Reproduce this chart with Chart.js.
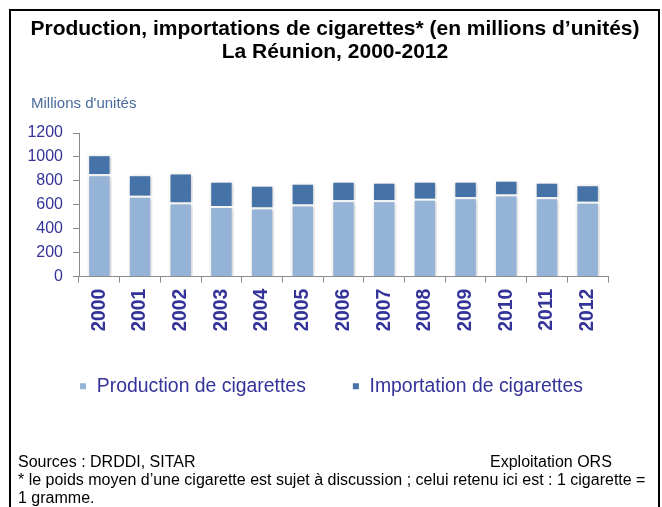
<!DOCTYPE html>
<html>
<head>
<meta charset="utf-8">
<script src="https://cdn.jsdelivr.net/npm/chart.js@4"></script>
<style>
  body { margin: 0; background: #fff; font-family: "Liberation Sans", Arial, sans-serif; }
  #wrap { position: relative; width: 662px; height: 507px; overflow: hidden; }
  #frame { position: absolute; left: 9px; top: 9px; width: 647px; height: 520px; border: 2px solid #000; }
  canvas { position: absolute; left: 0; top: 0; }
  .txt { position: absolute; white-space: nowrap; }
  #title { left: 0; width: 670px; top: 16px; text-align: center; font-weight: bold; font-size: 21px; line-height: 23px; }
  #unit { left: 31px; top: 94px; font-size: 15px; color: #4a6b9c; }
  .foot { left: 18px; font-size: 16px; line-height: 18px; color: #000; }
</style>
</head>
<body>
<div id="wrap">
  <canvas id="myChart" width="662" height="507"></canvas>
  <div id="frame"></div>
  <div class="txt" id="title">Production, importations de cigarettes* (en millions d’unités)<br>La Réunion, 2000-2012</div>
  <div class="txt" id="unit">Millions d'unités</div>
  <div class="txt foot" style="top:453px">Sources : DRDDI, SITAR</div>
  <div class="txt foot" style="top:453px; left:490px">Exploitation ORS</div>
  <div class="txt foot" style="top:471px">* le poids moyen d’une cigarette est sujet à discussion ; celui retenu ici est : 1 cigarette =</div>
  <div class="txt foot" style="top:489px">1 gramme.</div>
</div>
<script>
const years = ["2000", "2001", "2002", "2003", "2004", "2005", "2006", "2007", "2008", "2009", "2010", "2011", "2012"];
// (millions d'unités)
const production = [855, 675, 620, 591, 578, 603, 639, 639, 650, 664, 687, 664, 625];
const importation = [168, 180, 249, 211, 190, 182, 163, 154, 152, 138, 123, 129, 146];
const yTicks = [0, 200, 400, 600, 800, 1000, 1200];

const navy = "#333399";
const axisGray = "#8c8c8c";

const shadow = {
  id: "shadow",
  beforeDatasetsDraw(chart) {
    const c = chart.ctx;
    c.save();
    c.shadowColor = "rgba(0,0,0,0.22)";
    c.shadowBlur = 4;
    c.shadowOffsetX = 1;
    c.shadowOffsetY = 1;
  },
  afterDatasetsDraw(chart) {
    chart.ctx.restore();
  },
};

// the legend box only spans the padded area, so put it back in the middle of the page
const centerLegend = {
  id: "centerLegend",
  afterLayout(chart) {
    const lg = chart.legend;
    const shift = (chart.width - lg.right - lg.left) / 2;
    lg.left += shift;
    lg.right += shift;
  },
};

const ctx = document.getElementById("myChart").getContext("2d");
const myChart = new Chart(ctx, {
  type: "bar",
  data: {
    labels: years,
    datasets: [
      {
        label: "Production de cigarettes",
        data: production,
        backgroundColor: "#95b3d7",
        borderColor: "#ffffff",
        borderWidth: 2,
      },
      {
        label: "Importation de cigarettes",
        data: importation,
        backgroundColor: "#4572a7",
        borderColor: "#ffffff",
        borderWidth: 2,
      },
    ],
  },
  options: {
    responsive: false,
    animation: false,
    layout: { padding: { left: 0, top: 133, right: 54, bottom: 101 } },
    datasets: { bar: { barPercentage: 0.6, categoryPercentage: 1 } },
    scales: {
      x: {
        stacked: true,
        afterFit(scale) { scale.height = 54; },
        grid: { drawOnChartArea: false, color: axisGray, tickLength: 6, offset: true },
        border: { color: axisGray, width: 1 },
        ticks: {
          color: navy,
          minRotation: 90,
          maxRotation: 90,
          padding: 6,
          font: { family: "Liberation Sans, Arial", size: 19.4, weight: "bold" },
        },
      },
      y: {
        stacked: true,
        min: 0,
        max: 1200,
        afterFit(scale) { scale.width = 79; },
        afterBuildTicks(scale) { scale.ticks = yTicks.map(v => ({ value: v })); },
        grid: { drawOnChartArea: false, color: axisGray, tickLength: 6 },
        border: { color: axisGray, width: 1 },
        ticks: {
          color: navy,
          padding: 10,
          callback: v => String(v),
          font: { family: "Liberation Sans, Arial", size: 16 },
        },
      },
    },
    plugins: {
      legend: {
        position: "bottom",
        labels: {
          color: navy,
          boxWidth: 8,
          boxHeight: 8,
          padding: 46,
          font: { family: "Liberation Sans, Arial", size: 19.4 },
        },
      },
      tooltip: { enabled: false },
    },
  },
  plugins: [shadow, centerLegend],
});
</script>
</body>
</html>
